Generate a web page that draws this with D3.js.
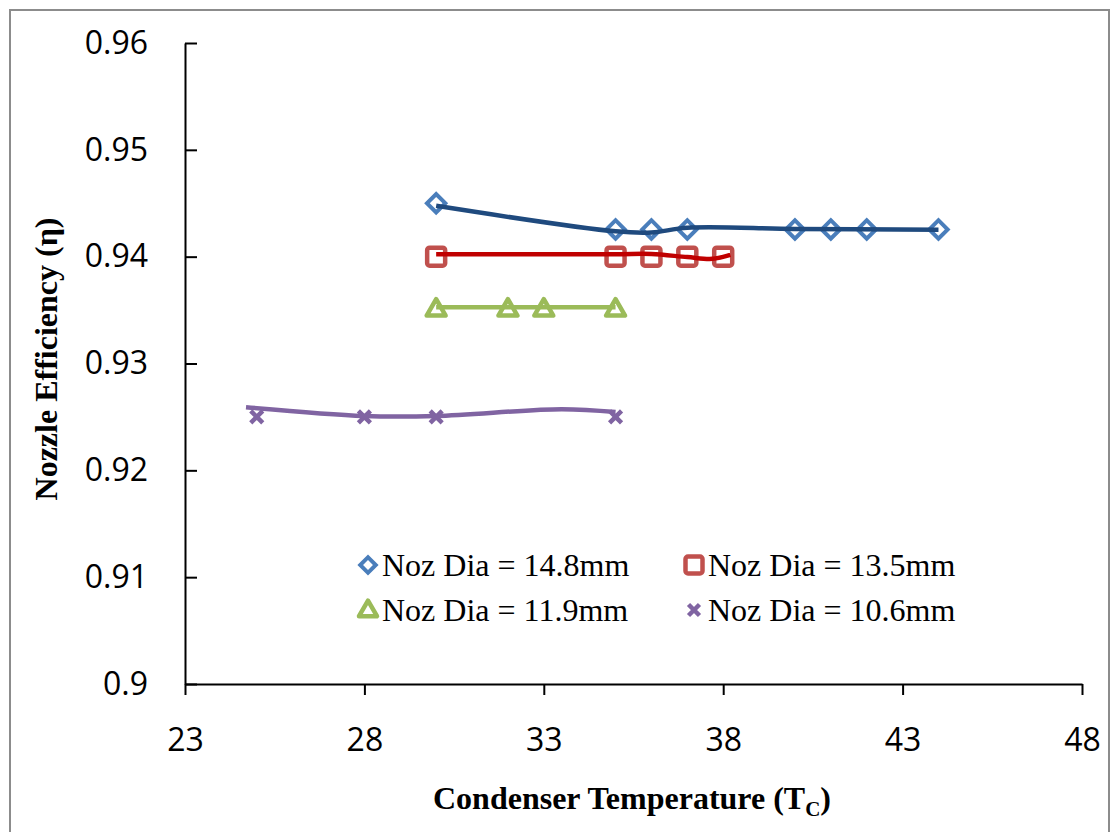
<!DOCTYPE html>
<html><head><meta charset="utf-8">
<script src="https://cdn.jsdelivr.net/npm/d3@7"></script>
<style>body{margin:0;background:#fff}svg{display:block}</style>
</head><body><svg id="c" width="1112" height="832"></svg>
<script>
// ---- data ----
const seriesNames = ["Noz Dia = 14.8mm","Noz Dia = 13.5mm","Noz Dia = 11.9mm","Noz Dia = 10.6mm"];
const xTicks = [23,28,33,38,43,48];
const yTicks = [0.9,0.91,0.92,0.93,0.94,0.95,0.96];
// markers
const m148x = [30,35,36,37,40,41,42,44];
const m148y = [0.945,0.94255,0.94255,0.94255,0.94255,0.94255,0.94255,0.94255];
const m135x = [30,35,36,37,38];
const m135y = [0.94,0.94,0.94,0.94,0.94];
const m119x = [30,32,33,35];
const m119y = [0.935,0.935,0.935,0.935];
const m106x = [25,28,30,35];
const m106y = [0.925,0.925,0.925,0.925];
// smoothed lines
const l148x = [30,35,36,37,40,44];
const l148y = [0.94476,0.94237,0.94226,0.94270,0.94260,0.94251];
const l135x = [30,35,36,37,37.7,38.2];
const l135y = [0.94023,0.94023,0.94025,0.93996,0.93980,0.94017];
const l119x = [30,35];
const l119y = [0.93527,0.93527];
const l106x = [24.7,28,30,33.5,35];
const l106y = [0.92591,0.92509,0.92509,0.92572,0.92545];

const svg = d3.select("#c");
svg.append("rect").attr("width",1112).attr("height",832).attr("fill","#fff");
// outer frame (left & top visible)
svg.append("path").attr("d","M10,840 L10,10 L1109,10 L1109,840").attr("fill","none").attr("stroke","#8c8c8c").attr("stroke-width",2);

const x = d3.scaleLinear().domain([23,48]).range([185,1082]);
const y = d3.scaleLinear().domain([0.9,0.96]).range([684,43]);

// axes
const gx = svg.append("g").attr("transform","translate(0,684)")
  .call(d3.axisBottom(x).tickValues(xTicks).tickSizeInner(11).tickSizeOuter(0).tickPadding(33).tickFormat(d3.format("d")));
const gy = svg.append("g").attr("transform","translate(185,0)")
  .call(d3.axisLeft(y).tickValues(yTicks).tickSizeInner(11).tickSizeOuter(0).tickPadding(26).tickFormat(d=>String(+d.toFixed(2))));
gy.selectAll(".tick line").attr("x2",12);
[gx,gy].forEach(g=>{
  g.select(".domain").attr("stroke","#000").attr("stroke-width",2);
  g.selectAll(".tick line").attr("stroke","#000").attr("stroke-width",2);
  g.selectAll(".tick text").attr("fill","#000").style("font-family","'Open Sans',sans-serif").style("font-size","32px");
});

// marker drawers
const colors = {blue:"#4a7ebb", red:"#c0504d", green:"#9bbb59", purple:"#8064a2"};
function diamond(g, cx, cy, s){
  g.append("path").attr("d",d3.symbol(d3.symbolSquare, s*s)()).attr("transform",`translate(${cx},${cy}) rotate(45)`)
   .attr("fill","none").attr("stroke",colors.blue).attr("stroke-width",4);
}
function square(g, cx, cy, s){
  g.append("rect").attr("x",cx-s/2).attr("y",cy-s/2).attr("width",s).attr("height",s).attr("rx",2.5)
   .attr("fill","none").attr("stroke",colors.red).attr("stroke-width",4.5);
}
function triangle(g, cx, cy, a){
  g.append("path").attr("d",d3.symbol(d3.symbolTriangle, Math.sqrt(3)/4*a*a)()).attr("transform",`translate(${cx},${cy})`)
   .attr("fill","none").attr("stroke",colors.green).attr("stroke-width",4.5).attr("stroke-linejoin","round");
}
function cross(g, cx, cy, r){
  g.append("path").attr("d",`M${-r},${-r}L${r},${r}M${-r},${r}L${r},${-r}`).attr("transform",`translate(${cx},${cy})`)
   .attr("fill","none").attr("stroke",colors.purple).attr("stroke-width",4.5);
}

const gm = svg.append("g");
m148x.forEach((d,i)=>diamond(gm, x(d), y(m148y[i]), 13));
m135x.forEach((d,i)=>square(gm, x(d), y(m135y[i]), 18));
m119x.forEach((d,i)=>triangle(gm, x(d), y(m119y[i]), 19));
m106x.forEach((d,i)=>cross(gm, x(d), y(m106y[i]), 6));

// smooth lines
const line = d3.line().x(d=>x(d[0])).y(d=>y(d[1])).curve(d3.curveCatmullRom);
const lines = [
  [l148x,l148y,"#1f4a7e"],
  [l135x,l135y,"#c00000"],
  [l119x,l119y,"#9bbb59"],
  [l106x,l106y,"#8064a2"]
];
lines.forEach(([lx,ly,c])=>{
  svg.append("path").attr("d",line(lx.map((d,i)=>[d,ly[i]]))).attr("fill","none")
    .attr("stroke",c).attr("stroke-width",4.5).attr("stroke-linecap","butt");
});

// legend
const legX = [368,694,368,694], legY=[565,565,610,610];
const lg = svg.append("g");
diamond(lg, legX[0], legY[0], 11);
square(lg, legX[1], legY[1], 17);
triangle(lg, legX[2], legY[2]+1, 18);
cross(lg, legX[3], legY[3], 5.5);
seriesNames.forEach((n,i)=>{
  lg.append("text").attr("x",legX[i]+14).attr("y",legY[i]+11).text(n)
    .style("font-family","'Liberation Serif','Times New Roman',serif").style("font-size","32px").attr("fill","#000");
});

// axis titles
const xt = svg.append("text").attr("x",632).attr("y",809).attr("text-anchor","middle")
  .style("font-family","'Liberation Serif','Times New Roman',serif").style("font-size","32px").style("font-weight","bold");
xt.append("tspan").text("Condenser Temperature (T");
xt.append("tspan").attr("dy",7).style("font-size","21px").text("C");
xt.append("tspan").attr("dy",-7).text(")");
svg.append("text").attr("transform","translate(57,359) rotate(-90)").attr("text-anchor","middle")
  .style("font-family","'Liberation Serif','Times New Roman',serif").style("font-size","32px").style("font-weight","bold")
  .text("Nozzle Efficiency (η)");
</script></body></html>
